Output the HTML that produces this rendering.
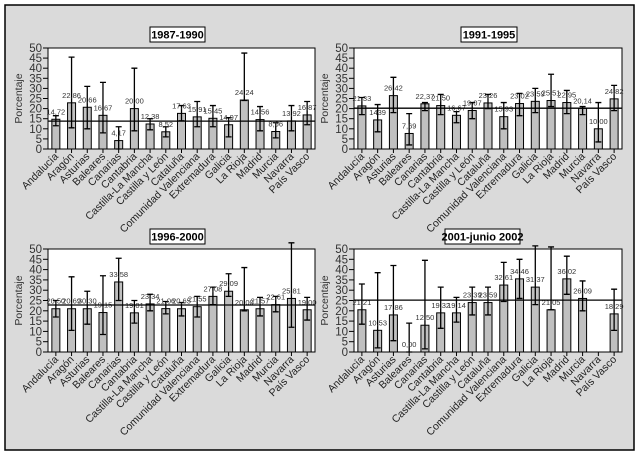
<!DOCTYPE html>
<html><head><meta charset="utf-8">
<style>
body{margin:0;background:#fff;}
svg{display:block;font-family:"Liberation Sans",sans-serif;}
</style></head>
<body>
<svg id="chart" width="638" height="454" viewBox="0 0 638 454">
<rect x="5" y="5" width="629" height="445" fill="#dadada" stroke="#000" stroke-width="1.5"/>
</svg>
<script>
const categories = ["Andalucía","Aragón","Asturias","Baleares","Canarias","Cantabria","Castilla-La Mancha","Castilla y León","Cataluña","Comunidad Valenciana","Extremadura","Galicia","La Rioja","Madrid","Murcia","Navarra","País Vasco"];

const titles = ["1987-1990","1991-1995","1996-2000","2001-junio 2002"];
const yTicks = [0,5,10,15,20,25,30,35,40,45,50];
const refValues = [13.8, 20.2, 22.8, 25.2];

const vals1 = [14.72,22.86,20.66,16.67,4.17,20.0,12.38,8.52,17.63,15.91,15.2,12.0,24.24,14.56,8.66,13.92,16.87];
const lo1 = [11.5,10.5,10,8,0,9,9.5,6,14,11,11,6,24,9,5.5,9,12];
const hi1 = [16.5,45.5,31,33,11,40,15,11,21.5,23.5,21.5,15.5,47.5,21,13,21.5,23.5];
const lab1 = ["14,72","22,86","20,66","16,67","4,17","20,00","12,38","8,52","17,63","15,91","15,45","14,97","24,24","14,56","8,66","13,92","16,87"];

const vals2 = [21.33,14.39,26.42,7.69,22.37,21.5,16.67,19.07,22.8,16.0,22.5,23.59,24.0,23.0,20.14,10.0,24.82];
const lo2 = [17,8.5,18,2,19,17,13,15,20,10,16.5,18,21,17.5,17,3.5,19];
const hi2 = [25.5,22,35.5,17.5,23,27,18.5,23,27,23,27.5,30,37,29,21,23,31.5];
const lab2 = ["21,33","1439","26,42","7,69","22,37","21,50","16,67","19,07","23,26","15,93","23,02","23,59","25,51","22,95","20,14","10,00","24,82"];

const vals3 = [21.0,21.0,21.0,19.15,34.0,19.01,23.34,21.06,21.0,22.0,27.0,29.5,20.5,21.0,23.0,26.0,20.5];
const lo3 = [17,10.5,13.5,8.5,25,14,20,18.5,17.5,17,23,27,20,17.5,19.5,12,15.5];
const hi3 = [25,36.5,29.5,37,45.5,25,28,24.5,24,27,31.5,38,41,26.5,27,53,26.5];
const lab3 = ["20,50","20,69","30,30","19,15","33,58","19,01","23,34","21,06","20,65","21,55","27,08","29,09","20,00","21,57","22,61","25,81","19,00"];

const vals4 = [20.5,10.53,18.0,0,13.0,19.0,19.0,24.0,24.0,32.5,35.5,31.5,20.5,35.5,26.0,null,18.5];
const lo4 = [13.5,2,5.5,0,1.5,11.5,14.5,18,18,24.5,26,23,20.5,28,20,null,10.5];
const hi4 = [33,38.5,42,14,44.5,31.5,26.5,31.5,31.5,43.5,45,51.5,51,46.5,34.5,null,30.5];
const lab4 = ["21,21","10,53","17,86","0,00","12,50","19,32","19,14","23,39","23,59","32,61","34,46","31,37","21,05","36,02","26,09","","18,29"];

const panels = [
  {vals:vals1,lo:lo1,hi:hi1,lab:lab1,x0:48,x1:315,y0:48,y1:149,tx:150,tw:55,ty:27},
  {vals:vals2,lo:lo2,hi:hi2,lab:lab2,x0:354,x1:622,y0:48,y1:149,tx:461,tw:56,ty:27},
  {vals:vals3,lo:lo3,hi:hi3,lab:lab3,x0:48,x1:315,y0:249,y1:352,tx:150,tw:55,ty:229},
  {vals:vals4,lo:lo4,hi:hi4,lab:lab4,x0:354,x1:622,y0:249,y1:352,tx:445,tw:75,ty:229}
];

const svg = document.getElementById('chart');
const NS = 'http://www.w3.org/2000/svg';
function mk(tag, attrs, parent){
  const e = document.createElementNS(NS, tag);
  for (const k in attrs) e.setAttribute(k, attrs[k]);
  (parent||svg).appendChild(e);
  return e;
}

panels.forEach((p, pi) => {
  const g = mk('g', {});
  
  
  const yS = v => p.y1 - (v/50)*(p.y1-p.y0);
  const bw = (p.x1-p.x0)/categories.length;
  const xS = i => p.x0 + bw*(i+0.5);

  const tb = mk('rect', {x:p.tx,y:p.ty,width:p.tw,height:15,fill:'#fff',stroke:'#000','stroke-width':1}, g);
  
  
  const tt = mk('text', {x:p.tx+p.tw/2,y:p.ty+11.5,'text-anchor':'middle','font-size':11,'font-weight':'bold'}, g);
  tt.textContent = titles[pi];
  
  

  const pa = mk('rect', {x:p.x0,y:p.y0,width:p.x1-p.x0,height:p.y1-p.y0,fill:'#fff',stroke:'#000','stroke-width':1}, g);
  
  

  yTicks.forEach(t => {
    const y = yS(t);
    mk('line', {x1:p.x0-5,x2:p.x0,y1:y,y2:y,stroke:'#000'}, g);
    const tl = mk('text', {x:p.x0-6,y:y+4,'text-anchor':'end','font-size':11.5,fill:'#333'}, g);
    tl.textContent = t;
    
    
  });
  const yt = mk('text', {transform:`translate(${p.x0-26},${(p.y0+p.y1)/2}) rotate(-90)`,'text-anchor':'middle','font-size':10.5,fill:'#333'}, g);
  yt.textContent = 'Porcentaje';
  
  

  categories.forEach((c, i) => {
    const x = xS(i);
    mk('line', {x1:x,x2:x,y1:p.y1,y2:p.y1+4,stroke:'#000'}, g);
    const cl = mk('text', {transform:`translate(${x+3},${p.y1+8}) rotate(-45)`,'text-anchor':'end','font-size':10.5,fill:'#222'}, g);
    cl.textContent = c;
    
    
    const v = p.vals[i];
    if (v === null) return;
    const bar = mk('rect', {x:x-4,y:yS(v),width:8,height:p.y1-yS(v),fill:'#c0c0c0',stroke:'#000','stroke-width':1}, g);
    
    
    const yl = yS(p.lo[i]), yh = yS(p.hi[i]);
    const eb = mk('path', {d:`M${x},${yl}V${yh}M${x-3},${yl}H${x+3}M${x-3},${yh}H${x+3}`,stroke:'#000','stroke-width':1.3,fill:'none'}, g);
    
    
    if (p.lab[i]) {
      const vl = mk('text', {x:x,y:Math.max(yS(v)-5, p.y0-2),'text-anchor':'middle','font-size':7.5,fill:'#333'}, g);
      vl.textContent = p.lab[i];
      
      
    }
  });
  const ry = yS(refValues[pi]);
  const rl = mk('line', {x1:p.x0,x2:p.x1,y1:ry,y2:ry,stroke:'#000','stroke-width':1.3}, g);
  
  
});
</script>
</body></html>
